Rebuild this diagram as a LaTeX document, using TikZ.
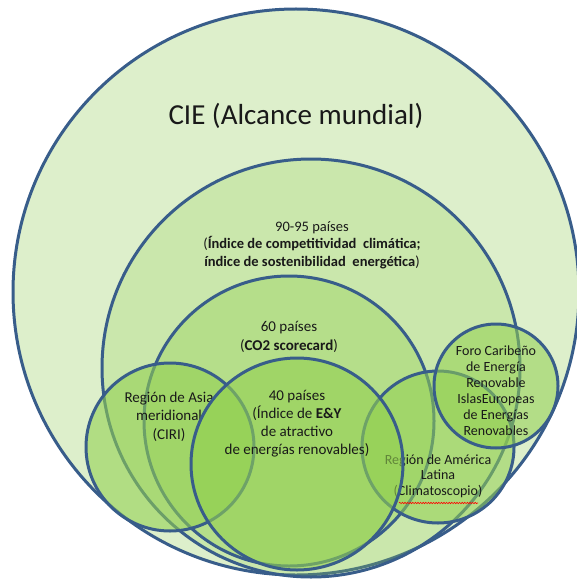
\documentclass[tikz,border=0pt]{standalone}
\usepackage{fontspec}
\setmainfont{Carlito}
\usetikzlibrary{decorations.pathmorphing}
\definecolor{edgeblue}{RGB}{56,93,138}
\definecolor{basegreen}{RGB}{146,208,80}
\definecolor{outerfill}{RGB}{221,239,203}
\definecolor{txt}{RGB}{25,25,25}
\begin{document}
\begin{tikzpicture}[x=1pt,y=-1pt,
  ring/.style={circle, draw=edgeblue, line width=3pt, inner sep=0pt, fill=basegreen},
  lbl/.style={align=center, inner sep=0pt, text=txt},
  spell/.style={draw=red, line width=0.6pt, decorate, decoration={snake, amplitude=0.7pt, segment length=2.6pt}}]
\useasboundingbox (0,0) rectangle (576,583);
% outer
\node[ring, fill=outerfill, minimum size=566pt] (cie) at (296,292) {};
\node[lbl, font=\fontsize{29}{34}\selectfont] (cietxt) at (296,116) {CIE (Alcance mundial)};
% 90-95
\node[ring, fill opacity=0.25, minimum size=418pt] (c90) at (311,368) {};
\node[lbl, font=\fontsize{14.5}{17.5}\selectfont] (t90) at (312,245)
  {90-95 países\\(\textbf{Índice de competitividad\ \ climática;}\\\textbf{índice de sostenibilidad\ \ energética})};
% 60
\node[ring, fill opacity=0.36, minimum size=290pt] (c60) at (289,421) {};
\node[lbl, font=\fontsize{15}{19}\selectfont] (t60) at (289,336.5)
  {60 países\\(\textbf{CO2 scorecard})};
% Asia
\node[ring, fill opacity=0.58, minimum size=168pt] (casia) at (170,447) {};
\node[lbl, font=\fontsize{15}{18.5}\selectfont] (tasia) at (169,416.5)
  {Región de Asia\\meridional\\(CIRI)};
% America Latina
\node[ring, fill opacity=0.55, minimum size=152pt] (cal) at (438,447) {};
\node[lbl, font=\fontsize{14}{15.5}\selectfont] (tal) at (438,476)
  {Región de América\\Latina\\(Climatoscopio)};
\coordinate (sp1) at (399,503);
\coordinate (sp2) at (478,503);
\draw[spell] (sp1) -- (sp2);
% 40
\node[ring, fill opacity=0.6, minimum size=212pt] (c40) at (297,464) {};
\node[lbl, font=\fontsize{15}{18}\selectfont] (t40) at (297,424)
  {40 países\\(Índice de \textbf{E\&Y}\\de atractivo\\de energías renovables)};
% Foro
\node[ring, fill opacity=0.55, minimum size=124pt] (cforo) at (496,386) {};
\node[lbl, font=\fontsize{14}{16}\selectfont] (tforo) at (496,391)
  {Foro Caribeño\\de Energía\\Renovable\\IslasEuropeas\\de Energías\\Renovables};
\end{tikzpicture}
\end{document}
